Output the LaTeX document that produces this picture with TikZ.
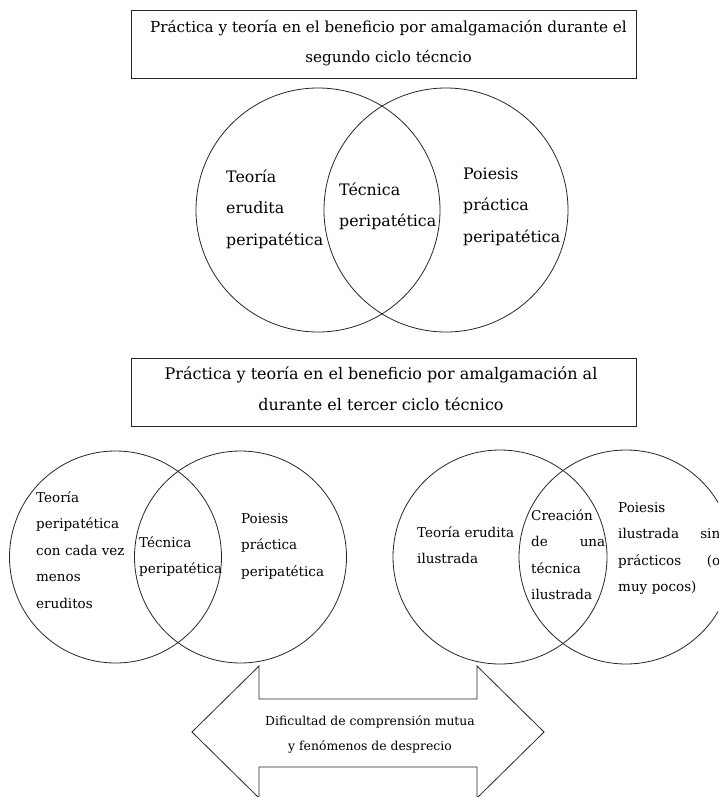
\documentclass[tikz,border=0pt]{standalone}
\usepackage{fontspec}
\setmainfont{DejaVu Serif}
\begin{document}
\begin{tikzpicture}[x=1pt,y=-1pt,
  line/.style={draw=black!85, line width=0.8pt},
  ring/.style={line, circle, inner sep=0pt, minimum size=#1},
  titlebox/.style={line, rectangle, inner sep=0pt, minimum width=505pt, minimum height=68pt},
  titletxt/.style={anchor=base, inner sep=0pt, align=center, font=\fontsize{#1}{30.5}\selectfont},
  biglbl/.style={anchor=base west, inner sep=0pt, align=left, text width=#1,
    font=\fontsize{15.8}{31.5}\selectfont},
  smalllbl/.style={anchor=base west, inner sep=0pt, align=left, text width=#1,
    font=\fontsize{13.5}{26.5}\selectfont},
]
\useasboundingbox (0,0) rectangle (718,797);
\clip (0,0) rectangle (718,797);

% first title (base anchor sits on the last line)
\node[titlebox] (title1) at (383.5,44) {};
\node[titletxt=15.2] (title1txt) at (388.5,63)
  {Práctica y teoría en el beneficio por amalgamación durante el\\segundo ciclo técncio};

% second-cycle Venn diagram
\node[ring=244pt] (vL) at (318,210) {};
\node[ring=244pt] (vR) at (446,210) {};
\node[biglbl=100pt] (vLtxt) at (226,182) {Teoría\\erudita\\peripatética};
\node[biglbl=100pt] (vMtxt) at (339,195) {Técnica\\peripatética};
\node[biglbl=100pt] (vRtxt) at (463,179) {Poiesis\\práctica\\peripatética};

% second title
\node[titlebox] (title2) at (383.5,392) {};
\node[titletxt=16] (title2txt) at (381,410)
  {Práctica y teoría en el beneficio por amalgamación al\\durante el tercer ciclo técnico};

% third cycle, peripatetic side
\node[ring=212pt] (pL) at (115.5,557) {};
\node[ring=212pt] (pR) at (240.5,557) {};
\node[smalllbl=100pt] (pLtxt) at (36,502)
  {Teoría\\peripatética\\con cada vez\\menos\\eruditos};
\node[smalllbl=100pt] (pMtxt) at (139,547) {Técnica\\peripatética};
\node[smalllbl=100pt] (pRtxt) at (241,523) {Poiesis\\práctica\\peripatética};

% third cycle, enlightened side
\node[ring=214pt] (iL) at (500,557) {};
\node[ring=214pt] (iR) at (626,557) {};
\node[smalllbl=110pt] (iLtxt) at (417,537) {Teoría erudita\\ilustrada};
\node[smalllbl=74pt] (iMtxt) at (531,520)
  {Creación\\\makebox[\linewidth]{de\hfill una}\\técnica\\ilustrada};
\node[smalllbl=102pt] (iRtxt) at (618,512)
  {Poiesis\\\makebox[\linewidth]{ilustrada\hfill sin}\\\makebox[\linewidth]{prácticos\hfill (o}\\muy pocos)};

% double arrow between both sides
\coordinate (tipL) at (192,732);
\coordinate (tipR) at (544,732);
\draw[line, line join=miter]
  (tipL) -- (259,666) -- (259,699) -- (477,699) -- (477,666) -- (tipR)
  -- (477,798) -- (477,767) -- (259,767) -- (259,798) -- cycle;
\node[anchor=base, inner sep=0pt, align=center, font=\fontsize{12.4}{25}\selectfont]
  (arrowtxt) at (370,750) {Dificultad de comprensión mutua\\y fenómenos de desprecio};
\end{tikzpicture}
\end{document}
